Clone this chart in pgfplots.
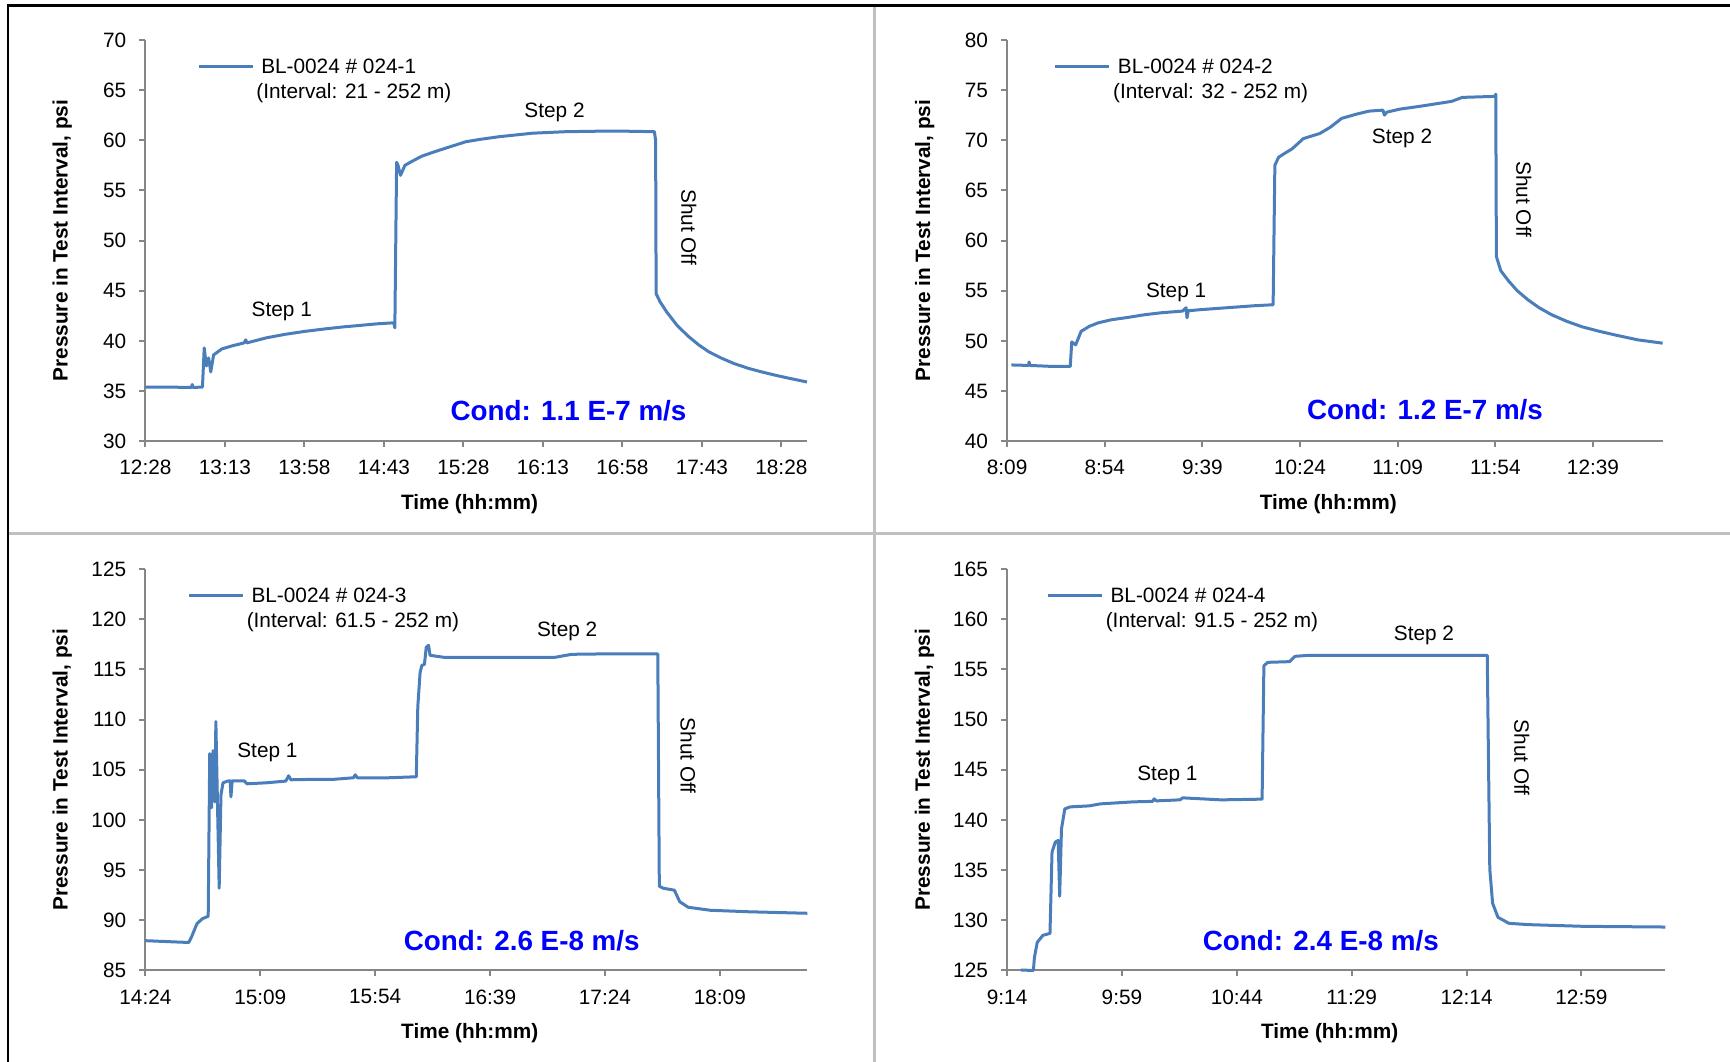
\documentclass[border=0pt]{standalone}
\usepackage{fontspec}
\setmainfont{Liberation Sans}
\usepackage{pgfplots}
\pgfplotsset{compat=1.18}
\definecolor{series}{RGB}{74,126,187}
\definecolor{axgray}{RGB}{134,134,134}
\definecolor{framegray}{RGB}{192,192,192}
\definecolor{condblue}{RGB}{0,0,255}
\tikzset{cond/.style={font=\fontsize{13.9bp}{16bp}\selectfont\bfseries, text=condblue},
  dataline/.style={series, line width=1.5bp, line join=round, mark=none}}
\pgfplotsset{
  panel/.style={
    scale only axis, anchor=south west, clip=false,
    axis x line=bottom, axis y line=left,
    axis line style={axgray, line width=1bp, -},
    tick style={axgray, line width=1bp},
    tick align=outside,
    major tick length=3bp,
    font=\fontsize{10.4bp}{12.2bp}\selectfont,
    /pgf/number format/assume math mode=true,
    yticklabel style={anchor=east, inner sep=0pt, xshift=-6.4bp},
    xticklabel style={anchor=north, inner sep=0pt, yshift=-6.3bp},
    xlabel={\bfseries Time (hh:mm)},
    ylabel={\bfseries Pressure in Test Interval, psi},
    every axis x label/.style={at={(axis description cs:0.49,-0.156)}, anchor=center},
    every axis y label/.style={at={(axis description cs:-0.1255,0.5)}, anchor=center, rotate=90},
    legend style={draw=none, fill=none, anchor=north west, inner sep=0pt, outer sep=0pt,
      cells={align=left}, column sep=-0.9bp},
    legend image code/.code={\draw[##1] (0bp,7bp) -- (27bp,7bp);},
  },
}
\begin{document}
\begin{tikzpicture}
\useasboundingbox (0,0) rectangle (865bp,531bp);
% frame
\draw[black, line width=1.5bp] (4bp,528.25bp) -- (865bp,528.25bp);
\draw[black, line width=1.25bp] (4bp,528.9bp) -- (4bp,0bp);
\draw[framegray, line width=1.25bp] (437.25bp,527.5bp) -- (437.25bp,0bp);
\draw[framegray, line width=1.25bp] (4.6bp,264.35bp) -- (865bp,264.35bp);

% Panel 1
\begin{axis}[panel, at={(72.7bp,310.4bp)}, width=330.8bp, height=200.65bp,
  xmin=748, xmax=1122.5, ymin=30, ymax=70, ytick={30,35,...,70},
  xtick={748,793,838,883,928,973,1018,1063,1108},
  xticklabels={12:28,13:13,13:58,14:43,15:28,16:13,16:58,17:43,18:28},
  legend style={at={(axis description cs:0.0784,0.962)}}]
\addplot[dataline] coordinates {(748,35.4) (760,35.4) (774,35.35) (774.5,35.65) (775,35.35) (780.3,35.4) (781.3,39.3) (782.5,37.5) (783.8,38.3) (785,36.9) (786.6,38.6) (791.3,39.2) (797,39.5) (803.9,39.8) (804.8,40.1) (805.5,39.8) (816.4,40.3) (827,40.65) (838.4,40.95) (850,41.2) (860.4,41.4) (870,41.55) (879.2,41.7) (888.6,41.8) (889.2,41.3) (890.2,57.8) (891,57.5) (892.4,56.5) (894.9,57.5) (899,57.9) (904.3,58.4) (910,58.75) (916.9,59.15) (929.4,59.85) (938,60.1) (948.2,60.35) (967.1,60.7) (985.9,60.85) (1004.7,60.9) (1020,60.9) (1036.1,60.85) (1036.8,60.0) (1037.1,44.7) (1039.3,43.9) (1043,42.9) (1048.7,41.6) (1055,40.5) (1061.2,39.6) (1067,38.9) (1073.8,38.3) (1081,37.75) (1089.5,37.25) (1097,36.9) (1105.2,36.55) (1113,36.25) (1122.5,35.9)};
\addlegendentry{\hspace*{2.4bp}BL-0024 \# 024-1\\(Interval: 21 - 252 m)}
\node at (axis cs:825.2,42.97) {Step 1};
\node at (axis cs:979.6,62.79) {Step 2};
\node[rotate=-90] at (axis cs:1055.6,51.33) {Shut Off};
\node[cond] at (axis cs:987.5,33.03) {Cond: 1.1 E-7 m/s};
\end{axis}

% Panel 2
\begin{axis}[panel, at={(503.55bp,310.4bp)}, width=327.75bp, height=200.65bp,
  xmin=489, xmax=791.1, ymin=40, ymax=80, ytick={40,45,...,80},
  xtick={489,534,579,624,669,714,759},
  xticklabels={8:09,8:54,9:39,10:24,11:09,11:54,12:39},
  legend style={at={(axis description cs:0.0714,0.962)}}]
\addplot[dataline] coordinates {(491,47.6) (499,47.55) (499.1,47.9) (499.6,47.55) (510,47.45) (518.1,47.45) (518.8,49.9) (520.6,49.6) (523.1,50.95) (526.9,51.45) (531,51.8) (537,52.1) (545,52.35) (552.2,52.6) (560,52.8) (569.9,52.97) (571.5,53.3) (571.9,52.3) (572.5,53.0) (577.5,53.1) (590.1,53.3) (602.8,53.5) (611.6,53.6) (612.4,67.5) (614.1,68.3) (617,68.7) (620.4,69.15) (625.5,70.16) (633.1,70.67) (638,71.3) (643.2,72.18) (650,72.6) (655.8,72.9) (662.2,73.0) (662.9,72.5) (664,72.8) (670,73.1) (678.6,73.36) (693.8,73.87) (698.8,74.27) (714,74.37) (714.2,74.6) (714.5,58.4) (716.5,57.0) (720,56.0) (724.1,55.0) (729,54.1) (734.2,53.3) (740,52.6) (746.8,51.96) (754,51.4) (762,50.95) (770,50.55) (779.7,50.1) (791.1,49.77)};
\addlegendentry{\hspace*{2.4bp}BL-0024 \# 024-2\\(Interval: 32 - 252 m)}
\node at (axis cs:566.9,54.83) {Step 1};
\node at (axis cs:671.0,70.23) {Step 2};
\node[rotate=-90] at (axis cs:727.1,64.1) {Shut Off};
\node[cond] at (axis cs:681.6,43.13) {Cond: 1.2 E-7 m/s};
\end{axis}

% Panel 3
\begin{axis}[panel, at={(72.7bp,45.75bp)}, width=331bp, height=200.75bp,
  xmin=864, xmax=1123.3, ymin=85, ymax=125, ytick={85,90,...,125},
  xtick={864,909,954,999,1044,1089},
  xticklabels={14:24,15:09,15:54,16:39,17:24,18:09},
  legend style={at={(axis description cs:0.0637,0.962)}}]
\addplot[dataline] coordinates {(864,87.97) (880,87.8) (881,87.8) (882,88.3) (884.2,89.67) (886.4,90.17) (888.6,90.4) (889.2,106.6) (889.9,101.2) (890.5,106.9) (891.2,101.8) (891.6,109.8) (892.3,100.8) (892.9,93.2) (893.6,102.5) (894.4,103.7) (896.2,103.87) (897.2,103.9) (897.5,102.3) (898,103.9) (902.7,103.9) (903.8,103.6) (911.4,103.7) (919,103.87) (920.1,104.4) (921,104.0) (928.8,104.04) (937.5,104.04) (945.5,104.2) (946.2,104.5) (947,104.2) (959.2,104.2) (970.1,104.3) (970.7,111.3) (971.6,114.7) (972.3,115.4) (973.3,115.5) (974,117.2) (974.9,117.4) (975.5,116.4) (981,116.2) (1002.7,116.2) (1024.4,116.2) (1031,116.5) (1046.2,116.55) (1064.7,116.55) (1065.3,93.4) (1066.8,93.2) (1071.2,93.0) (1073.3,91.85) (1076.6,91.3) (1085.3,91.0) (1100.5,90.85) (1123.3,90.7)};
\addlegendentry{\hspace*{2.4bp}BL-0024 \# 024-3\\(Interval: 61.5 - 252 m)}
\node at (axis cs:911.8,106.74) {Step 1};
\node at (axis cs:1029.2,118.8) {Step 2};
\node[rotate=-90] at (axis cs:1076.6,106.4) {Shut Off};
\node[cond] at (axis cs:1011.4,87.98) {Cond: 2.6 E-8 m/s};
\end{axis}

% Panel 4
\begin{axis}[panel, at={(503.55bp,45.75bp)}, width=329.15bp, height=200.75bp,
  xmin=554, xmax=811.9, ymin=125, ymax=165, ytick={125,130,...,165},
  xtick={554,599,644,689,734,779},
  xticklabels={9:14,9:59,10:44,11:29,12:14,12:59},
  legend style={at={(axis description cs:0.060,0.962)}}]
\addplot[dataline] coordinates {(559.4,125.05) (564.3,125.0) (564.7,126.3) (565.8,127.8) (568,128.5) (570.8,128.7) (571.6,136.8) (572.9,137.8) (574,137.95) (574.6,132.4) (575.3,139.1) (576.6,141.1) (578.7,141.3) (586.2,141.4) (590.5,141.6) (603.4,141.8) (611,141.85) (611.6,142.1) (612.5,141.9) (621.7,142.0) (622.8,142.2) (637.8,142.0) (653.9,142.07) (654.6,155.36) (656.1,155.7) (664.7,155.77) (666.8,156.3) (672.2,156.4) (715.2,156.4) (742.1,156.4) (743.1,135.1) (744.2,131.7) (746.3,130.3) (750.6,129.7) (758.2,129.57) (779.7,129.4) (811.9,129.33)};
\addlegendentry{\hspace*{2.4bp}BL-0024 \# 024-4\\(Interval: 91.5 - 252 m)}
\node at (axis cs:616.8,144.4) {Step 1};
\node at (axis cs:717.3,158.4) {Step 2};
\node[rotate=-90] at (axis cs:755.6,146.2) {Shut Off};
\node[cond] at (axis cs:676.9,127.98) {Cond: 2.4 E-8 m/s};
\end{axis}
\end{tikzpicture}
\end{document}
